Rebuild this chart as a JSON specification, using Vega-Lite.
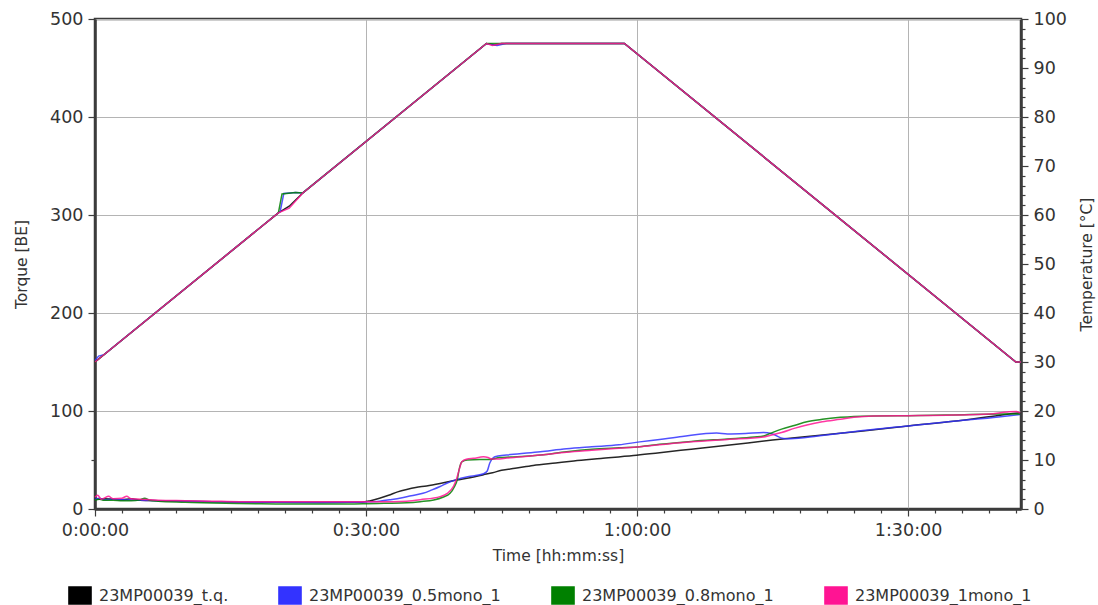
{
  "$schema": "https://vega.github.io/schema/vega-lite/v6.json",
  "width": 926,
  "height": 490,
  "autosize": "none",
  "padding": {"left": 95, "top": 19, "right": 77, "bottom": 96},
  "background": "white",
  "config": {
    "font": "DejaVu Sans",
    "view": {"stroke": "#3c3c3c", "strokeWidth": 2.5},
    "axis": {
      "domainColor": "#3c3c3c",
      "domainWidth": 2.5,
      "tickColor": "#3c3c3c",
      "tickWidth": 1.2,
      "labelColor": "#333333",
      "labelFontSize": 17.5,
      "labelFont": "DejaVu Sans",
      "titleColor": "#333333",
      "titleFont": "DejaVu Sans",
      "titleFontSize": 15.5,
      "titleFontWeight": "normal",
      "gridColor": "#b4b4b4",
      "gridWidth": 1,
      "labelOverlap": false,
      "labelFlush": false
    },
    "legend": {
      "labelFont": "DejaVu Sans",
      "labelFontSize": 16,
      "labelColor": "#333333",
      "labelLimit": 0,
      "padding": 0
    }
  },
  "datasets": {
    "torque": [
      {"t": 0, "s": "23MP00039_t.q.", "q": 11}, {"t": 0.5, "s": "23MP00039_t.q.", "q": 10}, {"t": 1, "s": "23MP00039_t.q.", "q": 10.5}, {"t": 2, "s": "23MP00039_t.q.", "q": 10}, {"t": 3, "s": "23MP00039_t.q.", "q": 9.5}, {"t": 4, "s": "23MP00039_t.q.", "q": 10.5}, {"t": 5, "s": "23MP00039_t.q.", "q": 9}, {"t": 7, "s": "23MP00039_t.q.", "q": 8.5}, {"t": 10, "s": "23MP00039_t.q.", "q": 8}, {"t": 13, "s": "23MP00039_t.q.", "q": 7.5}, {"t": 16, "s": "23MP00039_t.q.", "q": 7}, {"t": 20, "s": "23MP00039_t.q.", "q": 6.8}, {"t": 25, "s": "23MP00039_t.q.", "q": 6.8}, {"t": 28, "s": "23MP00039_t.q.", "q": 7}, {"t": 29.5, "s": "23MP00039_t.q.", "q": 7}, {"t": 30.5, "s": "23MP00039_t.q.", "q": 8.5}, {"t": 31.5, "s": "23MP00039_t.q.", "q": 11}, {"t": 32.5, "s": "23MP00039_t.q.", "q": 14}, {"t": 33.5, "s": "23MP00039_t.q.", "q": 17.5}, {"t": 34.5, "s": "23MP00039_t.q.", "q": 20}, {"t": 35.5, "s": "23MP00039_t.q.", "q": 22}, {"t": 36.7, "s": "23MP00039_t.q.", "q": 23.5}, {"t": 38.2, "s": "23MP00039_t.q.", "q": 26}, {"t": 40, "s": "23MP00039_t.q.", "q": 29.5}, {"t": 41.5, "s": "23MP00039_t.q.", "q": 32}, {"t": 43, "s": "23MP00039_t.q.", "q": 35}, {"t": 44, "s": "23MP00039_t.q.", "q": 37}, {"t": 45, "s": "23MP00039_t.q.", "q": 39.5}, {"t": 46.5, "s": "23MP00039_t.q.", "q": 41.5}, {"t": 48.5, "s": "23MP00039_t.q.", "q": 44.5}, {"t": 51, "s": "23MP00039_t.q.", "q": 47}, {"t": 53, "s": "23MP00039_t.q.", "q": 49}, {"t": 56, "s": "23MP00039_t.q.", "q": 51.5}, {"t": 59.6, "s": "23MP00039_t.q.", "q": 54.5}, {"t": 62.5, "s": "23MP00039_t.q.", "q": 57.5}, {"t": 66, "s": "23MP00039_t.q.", "q": 61}, {"t": 70, "s": "23MP00039_t.q.", "q": 65}, {"t": 75, "s": "23MP00039_t.q.", "q": 70.4}, {"t": 80, "s": "23MP00039_t.q.", "q": 75}, {"t": 85, "s": "23MP00039_t.q.", "q": 79.5}, {"t": 90, "s": "23MP00039_t.q.", "q": 84.7}, {"t": 95, "s": "23MP00039_t.q.", "q": 89.5}, {"t": 100, "s": "23MP00039_t.q.", "q": 95.5}, {"t": 102.4, "s": "23MP00039_t.q.", "q": 98.3},

      {"t": 0, "s": "23MP00039_0.5mono_1", "q": 10}, {"t": 0.5, "s": "23MP00039_0.5mono_1", "q": 11}, {"t": 1, "s": "23MP00039_0.5mono_1", "q": 9.5}, {"t": 2, "s": "23MP00039_0.5mono_1", "q": 10}, {"t": 3, "s": "23MP00039_0.5mono_1", "q": 9.5}, {"t": 5, "s": "23MP00039_0.5mono_1", "q": 9}, {"t": 7, "s": "23MP00039_0.5mono_1", "q": 8.5}, {"t": 10, "s": "23MP00039_0.5mono_1", "q": 8}, {"t": 13, "s": "23MP00039_0.5mono_1", "q": 7.5}, {"t": 16, "s": "23MP00039_0.5mono_1", "q": 7}, {"t": 20, "s": "23MP00039_0.5mono_1", "q": 6.8}, {"t": 25, "s": "23MP00039_0.5mono_1", "q": 6.5}, {"t": 28, "s": "23MP00039_0.5mono_1", "q": 6.8}, {"t": 30, "s": "23MP00039_0.5mono_1", "q": 7.2}, {"t": 31.5, "s": "23MP00039_0.5mono_1", "q": 8}, {"t": 32.7, "s": "23MP00039_0.5mono_1", "q": 9.5}, {"t": 34, "s": "23MP00039_0.5mono_1", "q": 11.5}, {"t": 35, "s": "23MP00039_0.5mono_1", "q": 13.5}, {"t": 36.3, "s": "23MP00039_0.5mono_1", "q": 16}, {"t": 37.3, "s": "23MP00039_0.5mono_1", "q": 19.5}, {"t": 38.2, "s": "23MP00039_0.5mono_1", "q": 23}, {"t": 39, "s": "23MP00039_0.5mono_1", "q": 26.5}, {"t": 40, "s": "23MP00039_0.5mono_1", "q": 30}, {"t": 41, "s": "23MP00039_0.5mono_1", "q": 32.5}, {"t": 42, "s": "23MP00039_0.5mono_1", "q": 34}, {"t": 43, "s": "23MP00039_0.5mono_1", "q": 36}, {"t": 43.4, "s": "23MP00039_0.5mono_1", "q": 38.5}, {"t": 43.7, "s": "23MP00039_0.5mono_1", "q": 47}, {"t": 44.1, "s": "23MP00039_0.5mono_1", "q": 52.5}, {"t": 44.6, "s": "23MP00039_0.5mono_1", "q": 54}, {"t": 46, "s": "23MP00039_0.5mono_1", "q": 55.5}, {"t": 49.3, "s": "23MP00039_0.5mono_1", "q": 58.5}, {"t": 52.2, "s": "23MP00039_0.5mono_1", "q": 61.5}, {"t": 55, "s": "23MP00039_0.5mono_1", "q": 63.5}, {"t": 58, "s": "23MP00039_0.5mono_1", "q": 65.5}, {"t": 60.3, "s": "23MP00039_0.5mono_1", "q": 68.5}, {"t": 62.5, "s": "23MP00039_0.5mono_1", "q": 71}, {"t": 65, "s": "23MP00039_0.5mono_1", "q": 74}, {"t": 68.8, "s": "23MP00039_0.5mono_1", "q": 77.5}, {"t": 70, "s": "23MP00039_0.5mono_1", "q": 76.5}, {"t": 72, "s": "23MP00039_0.5mono_1", "q": 77}, {"t": 74, "s": "23MP00039_0.5mono_1", "q": 78}, {"t": 75, "s": "23MP00039_0.5mono_1", "q": 76.5}, {"t": 76.2, "s": "23MP00039_0.5mono_1", "q": 72}, {"t": 77, "s": "23MP00039_0.5mono_1", "q": 71.8}, {"t": 80, "s": "23MP00039_0.5mono_1", "q": 74.5}, {"t": 82.5, "s": "23MP00039_0.5mono_1", "q": 77.2}, {"t": 85, "s": "23MP00039_0.5mono_1", "q": 80}, {"t": 90, "s": "23MP00039_0.5mono_1", "q": 84.7}, {"t": 95, "s": "23MP00039_0.5mono_1", "q": 89.5}, {"t": 100, "s": "23MP00039_0.5mono_1", "q": 94}, {"t": 102.4, "s": "23MP00039_0.5mono_1", "q": 96.5},

      {"t": 0, "s": "23MP00039_0.8mono_1", "q": 9}, {"t": 0.5, "s": "23MP00039_0.8mono_1", "q": 10}, {"t": 1, "s": "23MP00039_0.8mono_1", "q": 9}, {"t": 2, "s": "23MP00039_0.8mono_1", "q": 9}, {"t": 3, "s": "23MP00039_0.8mono_1", "q": 8.5}, {"t": 4, "s": "23MP00039_0.8mono_1", "q": 8.5}, {"t": 5, "s": "23MP00039_0.8mono_1", "q": 9.5}, {"t": 5.5, "s": "23MP00039_0.8mono_1", "q": 11}, {"t": 6, "s": "23MP00039_0.8mono_1", "q": 9}, {"t": 7, "s": "23MP00039_0.8mono_1", "q": 8}, {"t": 10, "s": "23MP00039_0.8mono_1", "q": 7}, {"t": 13, "s": "23MP00039_0.8mono_1", "q": 6}, {"t": 16, "s": "23MP00039_0.8mono_1", "q": 5.5}, {"t": 20, "s": "23MP00039_0.8mono_1", "q": 5.2}, {"t": 25, "s": "23MP00039_0.8mono_1", "q": 5}, {"t": 28, "s": "23MP00039_0.8mono_1", "q": 5}, {"t": 30, "s": "23MP00039_0.8mono_1", "q": 5.3}, {"t": 32, "s": "23MP00039_0.8mono_1", "q": 5.8}, {"t": 34.5, "s": "23MP00039_0.8mono_1", "q": 6.4}, {"t": 36, "s": "23MP00039_0.8mono_1", "q": 7.5}, {"t": 37.5, "s": "23MP00039_0.8mono_1", "q": 9.2}, {"t": 38.5, "s": "23MP00039_0.8mono_1", "q": 12}, {"t": 39.3, "s": "23MP00039_0.8mono_1", "q": 16}, {"t": 39.8, "s": "23MP00039_0.8mono_1", "q": 23}, {"t": 40.1, "s": "23MP00039_0.8mono_1", "q": 30}, {"t": 40.3, "s": "23MP00039_0.8mono_1", "q": 40}, {"t": 40.6, "s": "23MP00039_0.8mono_1", "q": 48}, {"t": 41.2, "s": "23MP00039_0.8mono_1", "q": 50}, {"t": 42.6, "s": "23MP00039_0.8mono_1", "q": 50.5}, {"t": 43.7, "s": "23MP00039_0.8mono_1", "q": 50.5}, {"t": 44.8, "s": "23MP00039_0.8mono_1", "q": 52.5}, {"t": 46, "s": "23MP00039_0.8mono_1", "q": 53}, {"t": 49.3, "s": "23MP00039_0.8mono_1", "q": 55}, {"t": 52.2, "s": "23MP00039_0.8mono_1", "q": 58.5}, {"t": 55, "s": "23MP00039_0.8mono_1", "q": 61}, {"t": 58, "s": "23MP00039_0.8mono_1", "q": 62.5}, {"t": 60.3, "s": "23MP00039_0.8mono_1", "q": 63.6}, {"t": 62.5, "s": "23MP00039_0.8mono_1", "q": 66}, {"t": 66, "s": "23MP00039_0.8mono_1", "q": 69}, {"t": 70, "s": "23MP00039_0.8mono_1", "q": 71.5}, {"t": 73, "s": "23MP00039_0.8mono_1", "q": 73.5}, {"t": 74, "s": "23MP00039_0.8mono_1", "q": 74.5}, {"t": 74.7, "s": "23MP00039_0.8mono_1", "q": 77}, {"t": 76, "s": "23MP00039_0.8mono_1", "q": 81.5}, {"t": 77.5, "s": "23MP00039_0.8mono_1", "q": 85.5}, {"t": 78.8, "s": "23MP00039_0.8mono_1", "q": 89}, {"t": 80.5, "s": "23MP00039_0.8mono_1", "q": 91.5}, {"t": 82.5, "s": "23MP00039_0.8mono_1", "q": 93.5}, {"t": 84, "s": "23MP00039_0.8mono_1", "q": 94.5}, {"t": 86.2, "s": "23MP00039_0.8mono_1", "q": 95}, {"t": 90, "s": "23MP00039_0.8mono_1", "q": 95.2}, {"t": 95, "s": "23MP00039_0.8mono_1", "q": 96}, {"t": 100, "s": "23MP00039_0.8mono_1", "q": 97}, {"t": 102.4, "s": "23MP00039_0.8mono_1", "q": 97},

      {"t": 0, "s": "23MP00039_1mono_1", "q": 12}, {"t": 0.3, "s": "23MP00039_1mono_1", "q": 14}, {"t": 0.7, "s": "23MP00039_1mono_1", "q": 10}, {"t": 1, "s": "23MP00039_1mono_1", "q": 11}, {"t": 1.5, "s": "23MP00039_1mono_1", "q": 13}, {"t": 2, "s": "23MP00039_1mono_1", "q": 10.5}, {"t": 3, "s": "23MP00039_1mono_1", "q": 11}, {"t": 3.5, "s": "23MP00039_1mono_1", "q": 13}, {"t": 4, "s": "23MP00039_1mono_1", "q": 10.5}, {"t": 5, "s": "23MP00039_1mono_1", "q": 10}, {"t": 7, "s": "23MP00039_1mono_1", "q": 9}, {"t": 10, "s": "23MP00039_1mono_1", "q": 8.5}, {"t": 13, "s": "23MP00039_1mono_1", "q": 8}, {"t": 16, "s": "23MP00039_1mono_1", "q": 7.5}, {"t": 20, "s": "23MP00039_1mono_1", "q": 7.5}, {"t": 25, "s": "23MP00039_1mono_1", "q": 7.5}, {"t": 28, "s": "23MP00039_1mono_1", "q": 7.5}, {"t": 30, "s": "23MP00039_1mono_1", "q": 7.5}, {"t": 33, "s": "23MP00039_1mono_1", "q": 7.5}, {"t": 34.5, "s": "23MP00039_1mono_1", "q": 8}, {"t": 36, "s": "23MP00039_1mono_1", "q": 9.5}, {"t": 38.2, "s": "23MP00039_1mono_1", "q": 12.6}, {"t": 39, "s": "23MP00039_1mono_1", "q": 16}, {"t": 39.7, "s": "23MP00039_1mono_1", "q": 23.5}, {"t": 40, "s": "23MP00039_1mono_1", "q": 30}, {"t": 40.2, "s": "23MP00039_1mono_1", "q": 36.4}, {"t": 40.4, "s": "23MP00039_1mono_1", "q": 43}, {"t": 40.6, "s": "23MP00039_1mono_1", "q": 48.3}, {"t": 41.2, "s": "23MP00039_1mono_1", "q": 51}, {"t": 41.9, "s": "23MP00039_1mono_1", "q": 51.7}, {"t": 43, "s": "23MP00039_1mono_1", "q": 53.2}, {"t": 43.5, "s": "23MP00039_1mono_1", "q": 52.5}, {"t": 43.9, "s": "23MP00039_1mono_1", "q": 51}, {"t": 44.5, "s": "23MP00039_1mono_1", "q": 51}, {"t": 45.6, "s": "23MP00039_1mono_1", "q": 52}, {"t": 49.3, "s": "23MP00039_1mono_1", "q": 55}, {"t": 52.2, "s": "23MP00039_1mono_1", "q": 58}, {"t": 55, "s": "23MP00039_1mono_1", "q": 60}, {"t": 58, "s": "23MP00039_1mono_1", "q": 62}, {"t": 60.3, "s": "23MP00039_1mono_1", "q": 63.5}, {"t": 62.5, "s": "23MP00039_1mono_1", "q": 65.5}, {"t": 66, "s": "23MP00039_1mono_1", "q": 68.5}, {"t": 70, "s": "23MP00039_1mono_1", "q": 71}, {"t": 74, "s": "23MP00039_1mono_1", "q": 73.5}, {"t": 74.7, "s": "23MP00039_1mono_1", "q": 75}, {"t": 76, "s": "23MP00039_1mono_1", "q": 78}, {"t": 77.5, "s": "23MP00039_1mono_1", "q": 82.5}, {"t": 78.8, "s": "23MP00039_1mono_1", "q": 85.7}, {"t": 80.5, "s": "23MP00039_1mono_1", "q": 89}, {"t": 82.5, "s": "23MP00039_1mono_1", "q": 91.5}, {"t": 84, "s": "23MP00039_1mono_1", "q": 93.5}, {"t": 86.2, "s": "23MP00039_1mono_1", "q": 94.9}, {"t": 90, "s": "23MP00039_1mono_1", "q": 95.2}, {"t": 95, "s": "23MP00039_1mono_1", "q": 95.8}, {"t": 99, "s": "23MP00039_1mono_1", "q": 97}, {"t": 101, "s": "23MP00039_1mono_1", "q": 99}, {"t": 102, "s": "23MP00039_1mono_1", "q": 99.5}, {"t": 102.4, "s": "23MP00039_1mono_1", "q": 98}
    ],
    "temperature": [
      {"t": 0, "s": "23MP00039_t.q.", "c": 30}, {"t": 20.3, "s": "23MP00039_t.q.", "c": 60.45}, {"t": 21.5, "s": "23MP00039_t.q.", "c": 61.8}, {"t": 23, "s": "23MP00039_t.q.", "c": 64.5}, {"t": 43.33, "s": "23MP00039_t.q.", "c": 95}, {"t": 44.2, "s": "23MP00039_t.q.", "c": 94.7}, {"t": 45, "s": "23MP00039_t.q.", "c": 95}, {"t": 58.6, "s": "23MP00039_t.q.", "c": 95}, {"t": 101.93, "s": "23MP00039_t.q.", "c": 30}, {"t": 102.5, "s": "23MP00039_t.q.", "c": 30},

      {"t": 0, "s": "23MP00039_0.5mono_1", "c": 30.3}, {"t": 0.4, "s": "23MP00039_0.5mono_1", "c": 31.2}, {"t": 1, "s": "23MP00039_0.5mono_1", "c": 31.5}, {"t": 20.5, "s": "23MP00039_0.5mono_1", "c": 60.75}, {"t": 20.9, "s": "23MP00039_0.5mono_1", "c": 64.4}, {"t": 22.2, "s": "23MP00039_0.5mono_1", "c": 64.6}, {"t": 23, "s": "23MP00039_0.5mono_1", "c": 64.5}, {"t": 43.33, "s": "23MP00039_0.5mono_1", "c": 95}, {"t": 44.5, "s": "23MP00039_0.5mono_1", "c": 94.6}, {"t": 45.5, "s": "23MP00039_0.5mono_1", "c": 95}, {"t": 58.6, "s": "23MP00039_0.5mono_1", "c": 95}, {"t": 101.93, "s": "23MP00039_0.5mono_1", "c": 30}, {"t": 102.5, "s": "23MP00039_0.5mono_1", "c": 30},

      {"t": 0, "s": "23MP00039_0.8mono_1", "c": 30}, {"t": 20.3, "s": "23MP00039_0.8mono_1", "c": 60.45}, {"t": 20.7, "s": "23MP00039_0.8mono_1", "c": 64.3}, {"t": 22.2, "s": "23MP00039_0.8mono_1", "c": 64.6}, {"t": 23, "s": "23MP00039_0.8mono_1", "c": 64.5}, {"t": 43.33, "s": "23MP00039_0.8mono_1", "c": 95}, {"t": 58.6, "s": "23MP00039_0.8mono_1", "c": 95}, {"t": 101.93, "s": "23MP00039_0.8mono_1", "c": 30}, {"t": 102.5, "s": "23MP00039_0.8mono_1", "c": 30},

      {"t": 0, "s": "23MP00039_1mono_1", "c": 30}, {"t": 20.3, "s": "23MP00039_1mono_1", "c": 60.45}, {"t": 21.5, "s": "23MP00039_1mono_1", "c": 61.4}, {"t": 23, "s": "23MP00039_1mono_1", "c": 64.5}, {"t": 43.33, "s": "23MP00039_1mono_1", "c": 95}, {"t": 44, "s": "23MP00039_1mono_1", "c": 94.6}, {"t": 45, "s": "23MP00039_1mono_1", "c": 95}, {"t": 58.6, "s": "23MP00039_1mono_1", "c": 95}, {"t": 101.93, "s": "23MP00039_1mono_1", "c": 30}, {"t": 102.5, "s": "23MP00039_1mono_1", "c": 30}
    ]
  },
  "encoding": {
    "x": {
      "field": "t",
      "type": "quantitative",
      "scale": {"domain": [0, 102.5], "nice": false, "zero": false},
      "axis": {
        "title": "Time [hh:mm:ss]",
        "values": [0, 3, 6, 9, 12, 15, 18, 21, 24, 27, 30, 33, 36, 39, 42, 45, 48, 51, 54, 57, 60, 63, 66, 69, 72, 75, 78, 81, 84, 87, 90, 93, 96, 99, 102],
        "labelExpr": "datum.value % 30 === 0 ? floor(datum.value / 60) + ':' + (datum.value % 60 < 10 ? '0' : '') + (datum.value % 60) + ':00' : ''",
        "grid": true,
        "gridOpacity": {"condition": {"test": "datum.value % 30 === 0", "value": 1}, "value": 0},
        "tickSize": {"condition": {"test": "datum.value % 30 === 0", "value": 7}, "value": 4},
        "labelPadding": 5,
        "titlePadding": 10
      }
    }
  },
  "layer": [
    {
      "data": {"name": "temperature"},
      "mark": {"type": "square", "filled": true, "opacity": 0, "size": 1},
      "encoding": {
        "y": {"field": "c", "type": "quantitative", "scale": {"domain": [0, 100], "nice": false}, "axis": null},
        "color": {
          "field": "s",
          "type": "nominal",
          "scale": {
            "domain": ["23MP00039_t.q.", "23MP00039_0.5mono_1", "23MP00039_0.8mono_1", "23MP00039_1mono_1"],
            "range": ["#000000", "#3333ff", "#008000", "#ff1493"]
          },
          "legend": {
            "title": null,
            "orient": "none",
            "direction": "horizontal",
            "legendX": -24.5,
            "legendY": 567,
            "symbolType": "M-1.3,-1H1.3V1H-1.3Z",
            "symbolSize": 289,
            "symbolOpacity": 1,
            "symbolStrokeColor": "#cccccc",
            "symbolStrokeWidth": 1.5,
            "labelOffset": 9.5,
            "columnPadding": 47
          }
        }
      }
    },
    {
      "data": {"name": "torque"},
      "mark": {"type": "line", "strokeWidth": 1.5, "opacity": 0.85, "interpolate": "monotone"},
      "encoding": {
        "color": {"field": "s", "type": "nominal", "legend": null},
        "y": {
          "field": "q",
          "type": "quantitative",
          "scale": {"domain": [0, 500], "nice": false},
          "axis": {
            "title": "Torque [BE]",
            "orient": "left",
            "values": [0, 50, 100, 200, 300, 400, 500],
            "labelExpr": "datum.value % 100 === 0 ? datum.value : ''",
            "grid": true,
            "gridOpacity": {"condition": {"test": "datum.value % 100 === 0", "value": 1}, "value": 0},
            "tickSize": {"condition": {"test": "datum.value % 100 === 0", "value": 7}, "value": 4},
            "labelPadding": 5,
            "titlePadding": 20
          }
        }
      }
    },
    {
      "data": {"name": "temperature"},
      "mark": {"type": "line", "strokeWidth": 1.5, "opacity": 0.85},
      "encoding": {
        "color": {"field": "s", "type": "nominal", "legend": null},
        "y": {
          "field": "c",
          "type": "quantitative",
          "scale": {"domain": [0, 100], "nice": false},
          "axis": {
            "title": "Temperature [°C]",
            "orient": "right",
            "titleAngle": 270,
            "titleBaseline": "top",
            "values": [0, 2, 4, 6, 8, 10, 12, 14, 16, 18, 20, 22, 24, 26, 28, 30, 32, 34, 36, 38, 40, 42, 44, 46, 48, 50, 52, 54, 56, 58, 60, 62, 64, 66, 68, 70, 72, 74, 76, 78, 80, 82, 84, 86, 88, 90, 92, 94, 96, 98, 100],
            "labelExpr": "datum.value % 10 === 0 ? datum.value : ''",
            "grid": false,
            "tickSize": {"condition": {"test": "datum.value % 10 === 0", "value": 7}, "value": 4},
            "labelPadding": 5,
            "titlePadding": 13
          }
        }
      }
    }
  ],
  "resolve": {"scale": {"y": "independent"}}
}
